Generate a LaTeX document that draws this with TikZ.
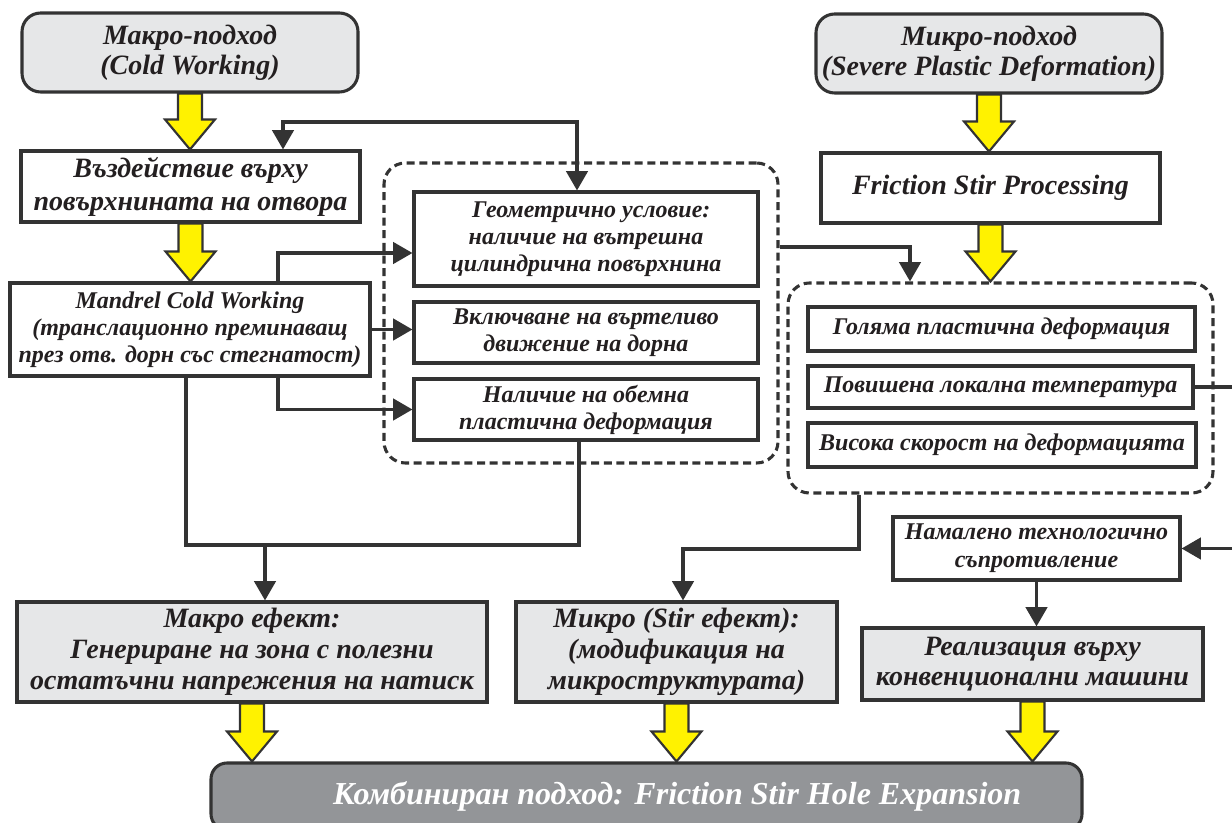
\documentclass[tikz,border=0pt]{standalone}
\usepackage{fontspec}
\setmainfont{Liberation Serif}
\usepackage{xcolor}
\usepackage{tikz}
\usetikzlibrary{arrows.meta,calc}

\definecolor{linec}{HTML}{333333}
\definecolor{txtc}{HTML}{231F20}
\definecolor{lightg}{HTML}{E6E7E8}
\definecolor{darkg}{HTML}{939598}
\definecolor{yel}{HTML}{FFF200}

\tikzset{
  box/.style={draw=linec, line width=2.3pt, fill=white, text=txtc, align=center, inner sep=1pt},
  graybox/.style={box, fill=lightg},
  boxsize/.style 2 args={minimum width=#1*0.75pt, minimum height=#2*0.75pt},
  grp/.style={draw=linec, line width=2.3pt, dash pattern=on 6pt off 3.5pt, rounded corners=16pt},
  conn/.style={draw=linec, line width=2.5pt},
  fatarr/.style={draw=linec, line width=1.6pt, fill=yel, line join=miter},
  fbig/.style={font=\fontsize{21}{22.5}\selectfont\bfseries\itshape},
  fmid/.style={font=\fontsize{21}{23.25}\selectfont\bfseries\itshape},
  fsmall/.style={font=\fontsize{18}{20.25}\selectfont\bfseries\itshape},
}

% yellow block arrow from node #1 to node #2
\newcommand{\fatarrow}[2]{%
  \draw[fatarr] ($(#1.south)+(-12,0)$) -- ($(#1.south)+(12,0)$)
    -- ($(#1.south |- #2.north)+(12,-30)$) -- ($(#1.south |- #2.north)+(25,-30)$)
    -- (#1.south |- #2.north) -- ($(#1.south |- #2.north)+(-25,-30)$)
    -- ($(#1.south |- #2.north)+(-12,-30)$) -- cycle;}

\begin{document}
\begin{tikzpicture}[x=0.75pt,y=0.75pt,yscale=-1,xscale=1, >={Triangle[length=14.5pt,width=16pt]}]
\useasboundingbox (0,0) rectangle (1232,823);

%% dashed groups
\node[grp, boxsize={394}{300}] (grp1) at (581,313) {};
\node[grp, boxsize={425}{210}] (grp2) at (1000.5,388) {};

%% left column
\node[graybox, rounded corners=14pt, fbig, boxsize={336}{79}] (macro) at (190,52.5) {Макро-подход\\(Cold Working)};
\node[box, font=\fontsize{21}{24.75}\selectfont\bfseries\itshape, boxsize={339}{71}] (surf) at (190.5,186.5) {Въздействие върху\\повърхнината на отвора};
\node[box, fsmall, boxsize={360}{93}] (mandrel) at (190,329.5) {Mandrel Cold Working\\(транслационно преминаващ\\през отв. дорн със стегнатост)};

%% middle column
\node[box, fsmall, boxsize={344}{94}] (geom) at (586,239) {\hspace*{8pt}Геометрично условие:\\наличие на вътрешна\\цилиндрична повърхнина};
\node[box, fsmall, boxsize={344}{61}] (rot) at (586,332.5) {Включване на въртеливо\\движение на дорна};
\node[box, fsmall, boxsize={344}{61}] (vol) at (586,409.5) {Наличие на обемна\\пластична деформация};

%% right column
\node[graybox, rounded corners=14pt, fbig, boxsize={346}{79}] (micro) at (989,53.5) {Микро-подход\\(Severe Plastic Deformation)};
\node[box, fbig, boxsize={339}{70}] (fsp) at (990.5,188) {Friction Stir Processing};
\node[box, fsmall, boxsize={387}{44}] (big) at (1001.5,329) {Голяма пластична деформация};
\node[box, fsmall, boxsize={385}{42}] (temp) at (1000.5,387) {Повишена локална температура};
\node[box, fsmall, boxsize={388}{44}] (speed) at (1002,445) {Висока скорост на деформацията};
\node[box, font=\fontsize{18}{21}\selectfont\bfseries\itshape, boxsize={287}{63}] (resist) at (1036.5,548.5) {Намалено технологично\\съпротивление};

%% effects
\node[graybox, fmid, boxsize={470}{100}] (meff) at (252,652) {Макро ефект:\\Генериране на зона с полезни\\остатъчни напрежения на натиск};
\node[graybox, fmid, boxsize={321}{100}] (stir) at (676.5,652) {Микро (Stir ефект):\\(модификация на\\микроструктурата)};
\node[graybox, font=\fontsize{21}{22.5}\selectfont\bfseries\itshape, boxsize={341}{72}] (conv) at (1032.5,664) {Реализация върху\\конвенционални машини};
\node[box, fill=darkg, rounded corners=12pt, text=white, font=\fontsize{24}{26}\selectfont\bfseries\itshape, boxsize={871}{67}] (comb) at (646.5,796.5) {\hspace*{46pt}Комбиниран подход: Friction Stir Hole Expansion};

%% yellow arrows
\fatarrow{macro}{surf}
\fatarrow{surf}{mandrel}
\fatarrow{micro}{fsp}
\fatarrow{fsp}{grp2}
\fatarrow{meff}{comb}
\fatarrow{stir}{comb}
\fatarrow{conv}{comb}

%% connectors
\coordinate (t1) at (283,122);
\coordinate (t2) at (577,122);
\draw[conn,<->] (t1 |- surf.north) -- (t1) -- (t2) -- (t2 |- geom.north);

\coordinate (c1) at (278,253);
\coordinate (c2) at (278,409.5);
\draw[conn,->] (c1 |- mandrel.north) -- (c1) -- (c1 -| geom.west);
\draw[conn,->] (mandrel.east) -- (mandrel.east -| rot.west);
\draw[conn,->] (c2 |- mandrel.south) -- (c2) -- (vol.west);

\coordinate (j1) at (186,545);
\coordinate (j2) at (579,545);
\coordinate (j) at (265,545);
\draw[conn] (j1 |- mandrel.south) -- (j1) -- (j2) -- (j2 |- vol.south);
\draw[conn,->] (j) -- (j |- meff.north);

\coordinate (k) at (910,247);
\draw[conn,->] (grp1.east |- k) -- (k) -- (k |- grp2.north);

\coordinate (m1) at (859,549);
\coordinate (m2) at (683,549);
\draw[conn,->] (m1 |- grp2.south) -- (m1) -- (m2) -- (m2 |- stir.north);

\coordinate (off) at (1260,0);
\draw[conn,->] (temp.east) -| (off |- resist.east) -- (resist.east);
\draw[conn,->] (resist.south) -- (resist.south |- conv.north);
\end{tikzpicture}
\end{document}
